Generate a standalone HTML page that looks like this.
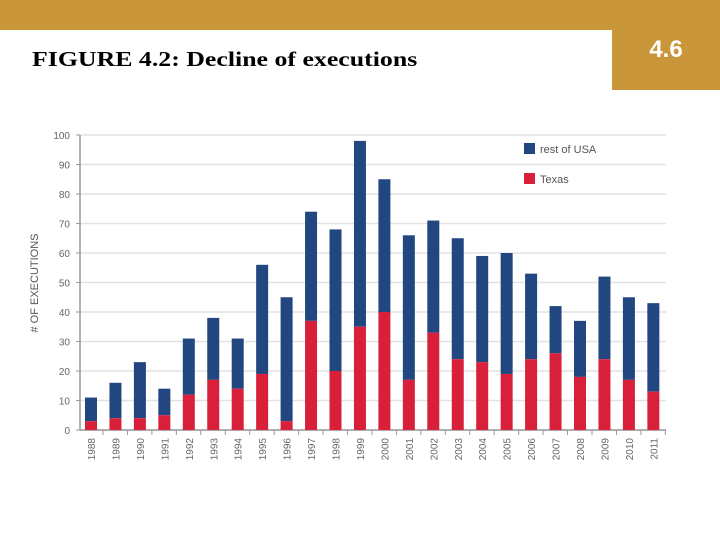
<!DOCTYPE html>
<html><head><meta charset="utf-8"><style>
body{margin:0;width:720px;height:540px;background:#fff;position:relative;overflow:hidden;font-family:"Liberation Sans",sans-serif}
#topbar{position:absolute;left:0;top:0;width:720px;height:30px;background:#c9973a}
#badge{position:absolute;left:612px;top:0;width:108px;height:90px;background:#c9973a;color:#fff;font-size:24px;font-weight:bold;text-align:center;line-height:100px}
#title{position:absolute;left:32px;top:47px;font-family:"Liberation Serif",serif;font-size:21px;font-weight:bold;color:#000;transform:scaleX(1.23);transform-origin:0 0;white-space:nowrap}
</style></head><body>
<div id="topbar"></div>
<div id="badge">4.6</div>
<div id="title">FIGURE 4.2: Decline of executions</div>
<svg id="chart" width="720" height="540" style="position:absolute;left:0;top:0"></svg>
<script>
const years=["1988","1989","1990","1991","1992","1993","1994","1995","1996","1997","1998","1999","2000","2001","2002","2003","2004","2005","2006","2007","2008","2009","2010","2011"];
const totals=[11,16,23,14,31,38,31,56,45,74,68,98,85,66,71,65,59,60,53,42,37,52,45,43];
const texas=[3,4,4,5,12,17,14,19,3,37,20,35,40,17,33,24,23,19,24,26,18,24,17,13];
const yTicks=[0,10,20,30,40,50,60,70,80,90,100];
const svg=document.getElementById('chart');const NS='http://www.w3.org/2000/svg';
const x0=80,x1=666,yBase=430,yTop=135;
const y=v=>yBase-(v/100)*(yBase-yTop);
const xc=i=>91+i*24.45;
function mk(t,a,p){const e=document.createElementNS(NS,t);for(const k in a)e.setAttribute(k,a[k]);(p||svg).appendChild(e);return e;}
yTicks.forEach(v=>{
const g=mk('line',{x1:x0,x2:x1,y1:y(v),y2:y(v),stroke:'#e2e2e2','stroke-width':1.5});


mk('line',{x1:x0-4,x2:x0,y1:y(v),y2:y(v),stroke:'#999'});
const t=mk('text',{x:x0-10,y:y(v)+4,'text-anchor':'end','font-size':10,fill:'#666'});t.textContent=v;


});
mk('line',{x1:x0,x2:x0,y1:yTop,y2:yBase,stroke:'#999','stroke-width':1.5});
mk('line',{x1:x0,x2:x1,y1:yBase,y2:yBase,stroke:'#999','stroke-width':1.5});
const yt=mk('text',{x:0,y:0,transform:'translate(38,283) rotate(-90)','text-anchor':'middle','font-size':11,fill:'#555'});yt.textContent='# OF EXECUTIONS';


years.forEach((yr,i)=>{
const cx=xc(i),w=12;
const b=mk('rect',{x:cx-w/2,y:y(totals[i]),width:w,height:y(texas[i])-y(totals[i]),fill:'#22467f'});


const r=mk('rect',{x:cx-w/2,y:y(texas[i]),width:w,height:yBase-y(texas[i]),fill:'#d9203a'});


mk('line',{x1:cx+12,x2:cx+12,y1:yBase,y2:yBase+5,stroke:'#999'});
const t=mk('text',{x:0,y:0,transform:`translate(${cx+4},438) rotate(-90)`,'text-anchor':'end','font-size':10,fill:'#666'});t.textContent=yr;


});
[['rest of USA','#22467f',149],['Texas','#d9203a',179]].forEach(([n,c,yy])=>{
const g=mk('g',{});

mk('rect',{x:524,y:yy-6,width:11,height:11,fill:c},g);
const t=mk('text',{x:540,y:yy+4,'font-size':11,fill:'#555'},g);t.textContent=n;
});
</script>
</body></html>
